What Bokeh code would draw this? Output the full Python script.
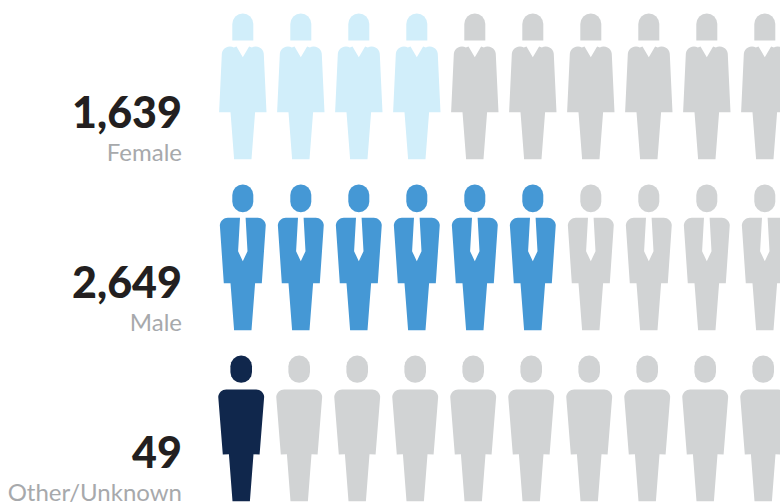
import math
from bokeh.plotting import figure
from bokeh.models import ColumnDataSource, Range1d
from bokeh.core.properties import value
from bokeh.embed import file_html
from bokeh.resources import INLINE

categories = ["Female", "Male", "Other/Unknown"]
counts = ["1,639", "2,649", "49"]
filled_icons = [4, 6, 1]
icons_per_row = 10

COLORS = ["#d1eefa", "#4598d5", "#10274c"]
GREY = "#d1d3d4"
W, H = 780, 504
PX = 58.0          # pixels per column
ROW = 170.0 / PX   # row pitch in column units
X0, Y0 = 242.3, 13.0
ROW_DX = [0.0, 0.0, -1.6]
ICON_ROW = 171.0 / PX


def arc(cx, cy, r, a0, a1, n=8):
    return [(cx + r * math.cos(math.radians(a0 + (a1 - a0) * i / n)),
             cy + r * math.sin(math.radians(a0 + (a1 - a0) * i / n))) for i in range(n + 1)]


def mirror(right):
    return right + [(-x, y) for x, y in reversed(right)]


def stadium(hw, h):
    return (arc(0, hw, hw, 180, 360) + arc(0, h - hw, hw, 0, 180))


dome = arc(0, 10.5, 10.5, 180, 360) + [(10.5, 27), (-10.5, 27)]
legs = [(12.3, 98.8), (8.7, 145.8)]

female_body = mirror([(0, 43.7), (6.3, 33.0)] + arc(13.0, 41.0, 8.0, -120, -5)[0:]
                     + [(23.7, 98.8)] + legs)
male_body = mirror([(0, 76.7), (4.7, 66.7), (2.8, 33.3), (15.0, 33.3)] + arc(15.0, 41.3, 8.0, -90, -5)
                   + [(19.0, 98.8)] + legs)
other_body = mirror([(0, 34.0), (15.0, 34.0)] + arc(15.0, 42.0, 8.0, -90, -5)
                    + [(18.4, 99.0)] + legs)

HEADS = [dome, stadium(10.5, 27.7), stadium(10.8, 27.3)]
BODIES = [female_body, male_body, other_body]

xs, ys, fills = [], [], []
for r in range(len(categories)):
    for c in range(icons_per_row):
        color = COLORS[r] if c < filled_icons[r] else GREY
        for shape in (HEADS[r], BODIES[r]):
            xs.append([c + (ROW_DX[r] + px) / PX for px, _ in shape])
            ys.append([r * ICON_ROW + py / PX for _, py in shape])
            fills.append(color)

p = figure(width=W, height=H, output_backend="svg", toolbar_location=None,
           x_range=Range1d(-X0 / PX, (W - X0) / PX),
           y_range=Range1d((H - Y0) / PX, -Y0 / PX),
           min_border=0, outline_line_color=None, background_fill_color="white",
           border_fill_color="white")
p.axis.visible = False
p.grid.visible = False

p.patches(xs="xs", ys="ys", fill_color="c", line_color=None,
          source=ColumnDataSource(dict(xs=xs, ys=ys, c=fills)))

text_x = [(181.5 - X0) / PX] * 3
rows = list(range(3))
p.text(x=text_x, y=[r * ROW + (111.5 - Y0) / PX for r in rows], text=counts,
       text_font=value("Lato Black"), text_font_style="bold", text_font_size="43px",
       text_color="#231f20", text_align="right", text_baseline="middle")
p.text(x=text_x, y=[r * ROW + (151 - Y0) / PX for r in rows], text=categories,
       text_font=value("Lato"), text_font_size="24px",
       text_color="#a7a9ac", text_align="right", text_baseline="middle")

open("out.html", "w").write(file_html(p, INLINE))
